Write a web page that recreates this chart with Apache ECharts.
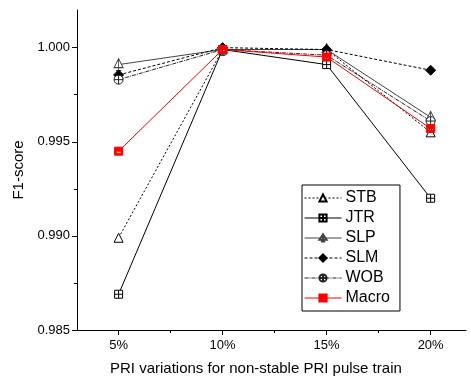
<!DOCTYPE html>
<html>
<head>
<meta charset="utf-8">
<script src="https://cdn.jsdelivr.net/npm/echarts@6/dist/echarts.min.js"></script>
<style>
  html, body {margin: 0; padding: 0; background: #fff;}
  #chart {width: 471px; height: 384px;}
</style>
</head>
<body>
<div id="chart"></div>
<script>
// PRI variation (%) on the x axis
const variations = [5, 10, 15, 20];
const xMajorTicks = [5, 10, 15, 20];
const xMinorTicks = [7.5, 12.5, 17.5];
const yMajorTicks = [0.985, 0.990, 0.995, 1.000];
const yMinorTicks = [0.9875, 0.9925, 0.9975];

const stb = [0.9899, 0.9999, 0.9999, 0.9955];
const jtr = [0.9869, 0.9999, 0.9991, 0.9920];
const slp = [0.9991, 0.9999, 0.9999, 0.9963];
const slm = [0.99855, 1.0000, 0.9999, 0.9988];
const wob = [0.9983, 0.9999, 0.9996, 0.9961];
const macro = [0.9945, 0.9999, 0.9995, 0.9957];

const font = 'Liberation Sans';

const sqCross = 'path://M0,0H10V10H0Z M5,0V10 M0,5H10';
const circPlus = 'path://M10,5A5,5 0 1,1 0,5A5,5 0 1,1 10,5Z M5,0V10 M0,5H10';
const triLine = 'path://M5,0L10,9H0Z M5,0V12 M2,12H8';
const macroSym = 'path://M0,0H10V10H0Z M2,5V7.5H8V5Z';

const pairs = vals => vals.map((v, i) => [variations[i], v]);

function makeSeries(name, data, opts) {
  return {
    name,
    type: 'line',
    xAxisIndex: 0,
    yAxisIndex: 0,
    data: pairs(data),
    symbol: opts.symbol,
    symbolSize: opts.size || 9,
    lineStyle: {color: opts.color, width: 1, type: opts.type || 'solid'},
    itemStyle: {color: opts.fill, borderColor: opts.color, borderWidth: 1},
    z: opts.z || 2
  };
}

const chart = echarts.init(document.getElementById('chart'));
chart.setOption({
  animation: false,
  textStyle: {fontFamily: font},
  grid: {left: 77, top: 10, right: 5, bottom: 54},
  xAxis: [{
    type: 'value', min: 3, max: 21.7,
    axisLine: {lineStyle: {color: '#000', width: 1}},
    axisTick: {customValues: xMajorTicks, length: 5, lineStyle: {color: '#000'}},
    axisLabel: {customValues: xMajorTicks, formatter: v => v + '%', color: '#000', fontSize: 13, margin: 9, fontFamily: font},
    splitLine: {show: false}
  }, {
    type: 'value', min: 3, max: 21.7, position: 'bottom',
    axisLine: {show: false},
    axisTick: {customValues: xMinorTicks, length: 3, lineStyle: {color: '#000'}},
    axisLabel: {show: false},
    splitLine: {show: false}
  }],
  yAxis: [{
    type: 'value', min: 0.985, max: 1.002,
    name: 'F1-score', nameLocation: 'middle', nameGap: 51,
    nameTextStyle: {color: '#000', fontSize: 15, fontFamily: font},
    axisLine: {show: true, lineStyle: {color: '#000', width: 1}},
    axisTick: {show: true, customValues: yMajorTicks, length: 5, lineStyle: {color: '#000'}},
    axisLabel: {customValues: yMajorTicks, formatter: v => v.toFixed(3), color: '#000', fontSize: 13, margin: 7, fontFamily: font},
    splitLine: {show: false}
  }, {
    type: 'value', min: 0.985, max: 1.002, position: 'left',
    axisLine: {show: false},
    axisTick: {show: true, customValues: yMinorTicks, length: 3, lineStyle: {color: '#000'}},
    axisLabel: {show: false},
    splitLine: {show: false}
  }],
  legend: {
    orient: 'vertical', left: 302, top: 185,
    borderColor: '#000', borderWidth: 1, borderRadius: 0,
    padding: [5, 10, 5, 2],
    itemWidth: 37, itemHeight: 9, itemGap: 4,
    lineStyle: {width: 1},
    textStyle: {color: '#000', fontSize: 16, fontFamily: font, padding: [0, 0, 0, -1]},
    data: ['STB', 'JTR', 'SLP', 'SLM', 'WOB', 'Macro']
  },
  graphic: [{
    type: 'text', left: 110, top: 361,
    style: {text: 'PRI variations for non-stable PRI pulse train', fill: '#000', fontSize: 15, fontFamily: font}
  }],
  series: [
    makeSeries('STB', stb, {symbol: 'triangle', color: '#000', fill: '#fff', type: [2, 2]}),
    makeSeries('JTR', jtr, {symbol: sqCross, color: '#000', fill: '#fff', size: 8}),
    makeSeries('SLP', slp, {symbol: triLine, color: '#444', fill: '#fff', size: [9, 12]}),
    makeSeries('SLM', slm, {symbol: 'diamond', color: '#000', fill: '#000', type: [3, 2], size: 10}),
    makeSeries('WOB', wob, {symbol: circPlus, color: '#222', fill: '#fff', type: [4, 1, 1, 1]}),
    makeSeries('Macro', macro, {symbol: macroSym, color: '#ff0000', fill: '#ff0000', size: 8, z: 3})
  ]
});
</script>
</body>
</html>
